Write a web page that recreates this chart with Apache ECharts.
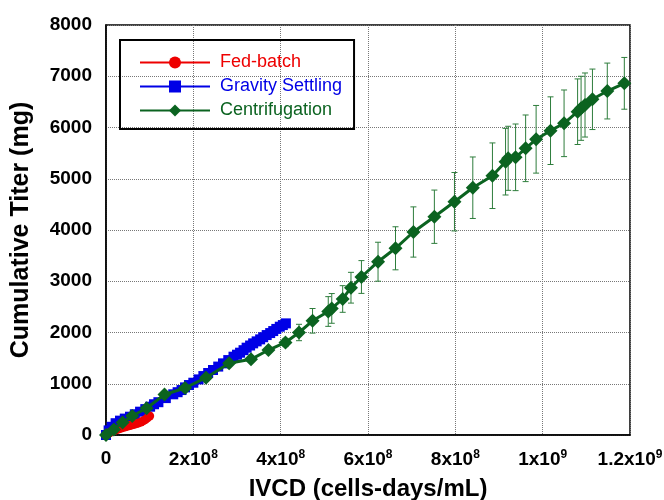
<!DOCTYPE html>
<html>
<head>
<meta charset="utf-8">
<script src="https://cdn.jsdelivr.net/npm/echarts@6/dist/echarts.min.js"></script>
<style>
  html, body { margin: 0; padding: 0; background: #fff; }
  #main { width: 664px; height: 500px; }
</style>
</head>
<body>
<div id="main"></div>
<script>
// IVCD values are in units of 1e8 cells-days/mL
var fedIvcd = [0, 0.04, 0.08, 0.12, 0.16, 0.2, 0.25, 0.3, 0.35, 0.4, 0.45, 0.5, 0.55, 0.6, 0.65, 0.7, 0.75, 0.8, 0.85, 0.9, 0.95, 1.0];
var fedTiter = [0, 22, 42, 60, 78, 92, 108, 122, 137, 150, 162, 174, 186, 198, 210, 222, 236, 252, 275, 300, 335, 370];

var gravIvcd = [0, 0.06, 0.13, 0.22, 0.32, 0.43, 0.55, 0.66, 0.78, 0.9, 1.01, 1.1, 1.2, 1.37, 1.54, 1.64, 1.73, 1.81, 1.9, 2.0, 2.12, 2.23,
                2.34, 2.45, 2.57, 2.68, 2.8, 2.92, 3.0, 3.07, 3.15, 3.22, 3.3, 3.37, 3.45, 3.53, 3.6, 3.68, 3.76, 3.83, 3.9, 3.98, 4.05, 4.12];
var gravTiter = [0, 90, 160, 230, 280, 320, 357, 405, 455, 505, 552, 600, 640, 720, 794, 835, 877, 929, 975, 1020, 1085, 1150,
                 1210, 1268, 1335, 1398, 1462, 1528, 1567, 1606, 1655, 1704, 1746, 1788, 1827, 1866, 1908, 1950, 1989, 2028, 2070, 2113, 2145, 2178];

var centIvcd = [0, 0.18, 0.38, 0.60, 0.93, 1.34, 1.81, 2.29, 2.82, 3.32, 3.72, 4.11, 4.42, 4.73, 5.09, 5.17, 5.42, 5.61, 5.85, 6.23,
                6.63, 7.04, 7.52, 7.98, 8.40, 8.85, 9.15, 9.21, 9.38, 9.61, 9.85, 10.18, 10.49, 10.80, 10.88, 10.97, 11.14, 11.48, 11.87];
var centTiter = [0, 107, 244, 371, 521, 790, 917, 1118, 1399, 1477, 1658, 1805, 2000, 2228, 2410, 2470, 2654, 2874, 3083, 3381,
                 3643, 3961, 4259, 4552, 4825, 5059, 5333, 5399, 5418, 5594, 5770, 5938, 6082, 6308, 6375, 6439, 6550, 6712, 6862];
var centErr = [0, 0, 0, 0, 0, 0, 0, 0, 0, 0, 0, 80, 160, 240, 290, 290, 260, 300, 320, 380,
               420, 490, 520, 570, 600, 640, 650, 625, 650, 650, 660, 660, 650, 640, 625, 625, 590, 545, 505];

var xTickLabels = ['0', '2x10{sup|8}', '4x10{sup|8}', '6x10{sup|8}', '8x10{sup|8}', '1x10{sup|9}', '1.2x10{sup|9}'];
var yTicks = [0, 1000, 2000, 3000, 4000, 5000, 6000, 7000, 8000];

var RED = '#ee0000', BLUE = '#0000e6', GREEN = '#0b6320';

function pairs(xs, ys) {
    return xs.map(function (x, i) { return [x * 1e8, ys[i]]; });
}

var myChart = echarts.init(document.getElementById('main'));

var option = {
    animation: false,
    textStyle: { fontFamily: 'Liberation Sans, Arial, sans-serif' },
    grid: {
        left: 106, right: 34, top: 25, bottom: 65, outerBoundsMode: 'none',
        show: true, borderColor: '#000', borderWidth: 1.5
    },
    legend: {
        orient: 'vertical',
        left: 120, top: 40,
        padding: [13, 12, 9, 19],
        itemWidth: 70, itemHeight: 15, itemGap: 5,
        borderColor: '#000', borderWidth: 2,
        textStyle: { fontSize: 18, lineHeight: 19, padding: [0, 0, 0, 5] },
        data: [
            { name: 'Fed-batch', textStyle: { color: RED } },
            { name: 'Gravity Settling', textStyle: { color: BLUE } },
            { name: 'Centrifugation', textStyle: { color: GREEN } }
        ]
    },
    xAxis: {
        type: 'value', min: 0, max: 1.2e9, interval: 2e8,
        name: 'IVCD (cells-days/mL)', nameLocation: 'middle', nameGap: 42,
        nameTextStyle: { fontSize: 24, fontWeight: 'bold', color: '#000' },
        axisLine: { lineStyle: { color: '#000', width: 1.5 } },
        axisTick: { show: false },
        axisLabel: {
            margin: 14, color: '#000', fontSize: 19, fontWeight: 'bold',
            formatter: function (v) { return xTickLabels[Math.round(v / 2e8)]; },
            rich: { sup: { fontSize: 12, fontWeight: 'bold', color: '#000', verticalAlign: 'top', padding: [0, 0, 10, 0] } }
        },
        splitLine: { lineStyle: { color: '#777', type: 'dotted', width: 1 } }
    },
    yAxis: {
        type: 'value', min: 0, max: 8000, interval: 1000,
        name: 'Cumulative Titer (mg)', nameLocation: 'middle', nameGap: 72,
        nameTextStyle: { fontSize: 25, fontWeight: 'bold', color: '#000' },
        axisLine: { show: true, lineStyle: { color: '#000', width: 1.5 } },
        axisTick: { show: false },
        axisLabel: {
            margin: 14, color: '#000', fontSize: 19, fontWeight: 'bold',
            formatter: function (v) { return yTicks.indexOf(v) >= 0 ? String(v) : ''; }
        },
        splitLine: { lineStyle: { color: '#777', type: 'dotted', width: 1 } }
    },
    series: [
        {
            name: 'Gravity Settling', type: 'line', data: pairs(gravIvcd, gravTiter),
            symbol: 'rect', symbolSize: 10,
            itemStyle: { color: BLUE }, lineStyle: { color: BLUE, width: 2 }, z: 2
        },
        {
            name: 'Fed-batch', type: 'line', data: pairs(fedIvcd, fedTiter),
            symbol: 'circle', symbolSize: 9,
            itemStyle: { color: RED }, lineStyle: { color: RED, width: 2 }, z: 2
        },
        {
            name: 'Centrifugation', type: 'line', data: pairs(centIvcd, centTiter),
            symbol: 'diamond', symbolSize: 14,
            itemStyle: { color: GREEN }, lineStyle: { color: GREEN, width: 3 }, z: 4
        },
        {
            // error bars for centrifugation
            type: 'custom', z: 3, silent: true,
            data: centIvcd.map(function (x, i) { return [x * 1e8, centTiter[i], centErr[i]]; }),
            encode: { x: 0, y: 1 },
            renderItem: function (params, api) {
                var x = api.value(0), y = api.value(1), e = api.value(2);
                if (!e) return null;
                var hi = api.coord([x, y + e]);
                var lo = api.coord([x, y - e]);
                var w = 3;
                var st = { stroke: '#2e7d3c', lineWidth: 1 };
                return {
                    type: 'group',
                    children: [
                        { type: 'line', shape: { x1: hi[0], y1: hi[1], x2: lo[0], y2: lo[1] }, style: st },
                        { type: 'line', shape: { x1: hi[0] - w, y1: hi[1], x2: hi[0] + w, y2: hi[1] }, style: st },
                        { type: 'line', shape: { x1: lo[0] - w, y1: lo[1], x2: lo[0] + w, y2: lo[1] }, style: st }
                    ]
                };
            }
        }
    ]
};

myChart.setOption(option);
window.onresize = function () {
    myChart.resize();
};
</script>
</body>
</html>
